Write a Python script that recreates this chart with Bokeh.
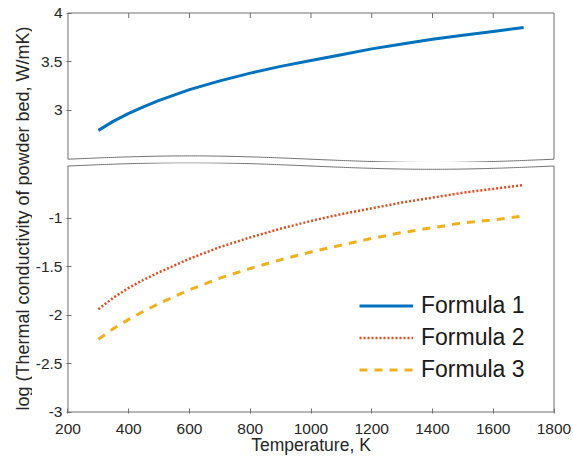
import numpy as np
from bokeh.plotting import figure
from bokeh.layouts import row, column
from bokeh.models import Range1d, FixedTicker, NumeralTickFormatter, Legend, LegendItem, ColumnDataSource
from bokeh.core.properties import value
from bokeh.embed import file_html
from bokeh.resources import INLINE

# ---- data -------------------------------------------------------------
temperature = [300, 350, 400, 450, 500, 600, 700, 800, 900, 1000, 1100, 1200, 1300, 1400, 1500, 1600, 1700]
formula_1 = [2.79, 2.885, 2.965, 3.035, 3.10, 3.21, 3.30, 3.38, 3.45, 3.51, 3.57, 3.63, 3.68, 3.73, 3.77, 3.81, 3.85]
formula_2 = [-1.94, -1.82, -1.72, -1.635, -1.56, -1.42, -1.30, -1.20, -1.11, -1.03, -0.96, -0.90, -0.84, -0.79, -0.74, -0.70, -0.66]
formula_3 = [-2.25, -2.14, -2.045, -1.96, -1.88, -1.74, -1.62, -1.52, -1.43, -1.35, -1.28, -1.21, -1.15, -1.10, -1.05, -1.02, -0.98]
series_names = ["Formula 1", "Formula 2", "Formula 3"]

x_ticks = [200, 400, 600, 800, 1000, 1200, 1400, 1600, 1800]
top_y_ticks = [3, 3.5, 4]
bottom_y_ticks = [-3, -2.5, -2, -1.5, -1]

x_label = "Temperature, K"
y_label = "log (Thermal conductivity of powder bed, W/mK)"

# ---- styling ----------------------------------------------------------
FONT = "Liberation Sans"
TEXT = "#262626"
FRAME = "#6f6f6f"
BLUE, RED, YELLOW = "#0072BD", "#DE4A1E", "#EDB120"

X_MIN, X_MAX = 200, 1800
TOP_MAX, BOT_MIN = 4.0, -3.0
PX_PER_K = 487 / 1600.0
PX_PER_UNIT = 97.0
PAD_PX = 1.5
XPAD = PAD_PX / PX_PER_K
TICK_PX = 5

LABEL_W = 32
FIG_W = 573 - LABEL_W
BORDER_L, BORDER_R = 33, 18
TOP_H, TOP_BT = 162, 11
BOT_H, BOT_BB = 302, 51

top_frame_h = TOP_H - TOP_BT
bot_frame_h = BOT_H - BOT_BB
top_end = TOP_MAX + PAD_PX / PX_PER_UNIT
top_start = top_end - top_frame_h / PX_PER_UNIT
bot_start = BOT_MIN - PAD_PX / PX_PER_UNIT
bot_end = bot_start + bot_frame_h / PX_PER_UNIT

# wavy break edges (centre and amplitude in data units)
wave_x = np.linspace(X_MIN, X_MAX, 241)
wave_phase = np.sin(2 * np.pi * (wave_x - X_MIN) / (X_MAX - X_MIN))
top_wave = 2.4928 + 0.034 * wave_phase
bot_wave = -0.464 + 0.034 * wave_phase


def style_y_axis(ax, ticks):
    ax.ticker = FixedTicker(ticks=ticks)
    ax.formatter = NumeralTickFormatter(format="0.[0]")
    ax.axis_line_color = None
    ax.major_tick_in = TICK_PX
    ax.major_tick_out = 0
    ax.minor_tick_line_color = None
    ax.major_tick_line_color = FRAME
    ax.major_label_standoff = 4
    ax.major_label_text_font = FONT
    ax.major_label_text_font_size = "15.5px"
    ax.major_label_text_color = TEXT


# ---- upper panel ------------------------------------------------------
p_top = figure(width=FIG_W, height=TOP_H, output_backend="svg", toolbar_location=None,
               x_range=Range1d(X_MIN - XPAD, X_MAX + XPAD),
               y_range=Range1d(top_start, top_end),
               x_axis_location=None,
               min_border_left=BORDER_L, min_border_right=BORDER_R,
               min_border_top=TOP_BT, min_border_bottom=0)
p_top.outline_line_color = None
p_top.grid.visible = False
style_y_axis(p_top.yaxis[0], top_y_ticks)

# frame of the upper panel, open at the wavy bottom edge
p_top.line([X_MIN, X_MIN, X_MAX, X_MAX], [top_wave[0], TOP_MAX, TOP_MAX, top_wave[-1]],
           line_color=FRAME, line_width=1)
p_top.line(wave_x, top_wave, line_color=FRAME, line_width=1)
# inward ticks along the top edge
inner_ticks = x_ticks[1:-1]
p_top.segment(x0=inner_ticks, y0=[TOP_MAX] * len(inner_ticks),
              x1=inner_ticks, y1=[TOP_MAX - TICK_PX / PX_PER_UNIT] * len(inner_ticks),
              line_color=FRAME, line_width=1)

p_top.line(temperature, formula_1, line_color=BLUE, line_width=3)

# ---- lower panel ------------------------------------------------------
p_bot = figure(width=FIG_W, height=BOT_H, output_backend="svg", toolbar_location=None,
               x_range=p_top.x_range,
               y_range=Range1d(bot_start, bot_end),
               min_border_left=BORDER_L, min_border_right=BORDER_R,
               min_border_top=0, min_border_bottom=BOT_BB)
p_bot.outline_line_color = None
p_bot.grid.visible = False
style_y_axis(p_bot.yaxis[0], bottom_y_ticks)
xa = p_bot.xaxis[0]
xa.ticker = FixedTicker(ticks=x_ticks)
xa.formatter = NumeralTickFormatter(format="0")
xa.axis_line_color = None
xa.major_tick_in = TICK_PX
xa.major_tick_out = 0
xa.minor_tick_line_color = None
xa.major_tick_line_color = FRAME
xa.major_label_standoff = 10
xa.major_label_text_font = FONT
xa.major_label_text_font_size = "15.5px"
xa.major_label_text_color = TEXT
xa.axis_label = x_label
xa.axis_label_standoff = -2
xa.axis_label_text_font = FONT
xa.axis_label_text_font_size = "17.5px"
xa.axis_label_text_font_style = "normal"
xa.axis_label_text_color = TEXT

p_bot.line([X_MIN, X_MIN, X_MAX, X_MAX], [bot_wave[0], BOT_MIN, BOT_MIN, bot_wave[-1]],
           line_color=FRAME, line_width=1)
p_bot.line(wave_x, bot_wave, line_color=FRAME, line_width=1)

# legend swatch for the upper-panel series (no visible points of its own)
r1 = p_bot.line(x="x", y="y", source=ColumnDataSource(dict(x=[np.nan], y=[np.nan])),
                line_color=BLUE, line_width=3)
r2 = p_bot.line(temperature, formula_2, line_color=RED, line_width=2.5, line_dash="2 2")
r3 = p_bot.line(temperature, formula_3, line_color=YELLOW, line_width=3, line_dash="8 7")

legend = Legend(items=[LegendItem(label=n, renderers=[r]) for n, r in zip(series_names, [r1, r2, r3])],
                location=(293, 30))
legend.border_line_color = None
legend.background_fill_alpha = 0
legend.padding = 0
legend.margin = 0
legend.spacing = 5
legend.glyph_width = 54
legend.glyph_height = 25
legend.label_height = 25
legend.label_standoff = 8
legend.label_text_font = FONT
legend.label_text_font_size = "23px"
legend.label_text_color = "#1a1a1a"
p_bot.add_layout(legend)

# ---- shared y-axis title ---------------------------------------------
p_lab = figure(width=LABEL_W, height=464, output_backend="svg", toolbar_location=None,
               x_range=Range1d(0, LABEL_W), y_range=Range1d(0, 464),
               x_axis_type=None, y_axis_type=None, min_border=0)
p_lab.outline_line_color = None
p_lab.grid.visible = False
p_lab.text(x=[22], y=[464 - 218], text=[y_label], angle=np.pi / 2,
           text_align="center", text_baseline="middle",
           text_font=value(FONT), text_font_size="18px", text_color=TEXT)

layout = row(p_lab, column(p_top, p_bot))

with open("out.html", "w") as f:
    f.write(file_html(layout, INLINE))
